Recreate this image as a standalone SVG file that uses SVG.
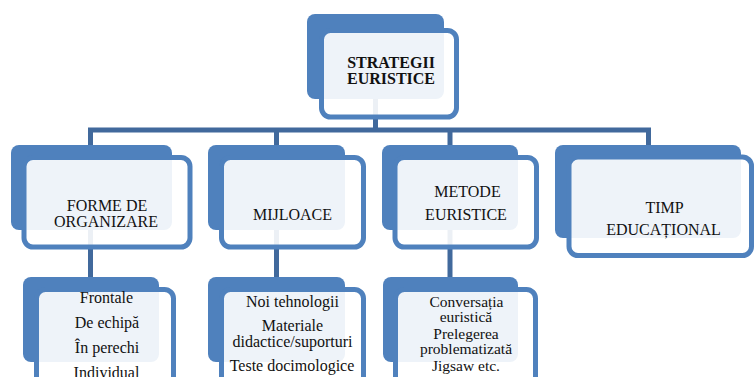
<svg xmlns="http://www.w3.org/2000/svg" width="754" height="377" viewBox="0 0 754 377">
<style>
.back{fill:#4F81BD}
.front{fill:#FFFFFF;fill-opacity:0.9;stroke:#4F81BD;stroke-width:5}
.conn{fill:none;stroke:#41699C;stroke-width:5;stroke-linejoin:miter}
.t{font-family:'Liberation Serif','Times New Roman',Times,'DejaVu Serif',serif;font-size:16px;fill:#111;text-anchor:middle}
.b{font-weight:bold}
.s{font-size:15.5px}
</style>
<rect width="754" height="377" fill="#FFFFFF"/>
<g id="connectors">
<path class="conn" d="M375.5,99 V130"/>
<path class="conn" d="M90.5,145 V130 H648.5 V145"/>
<path class="conn" d="M276.5,130 V145"/>
<path class="conn" d="M450,130 V145"/>
<path class="conn" d="M90.5,230 V277"/>
<path class="conn" d="M276.5,230 V277"/>
<path class="conn" d="M450,230 V277"/>
</g>
<g id="strategii">
<rect class="back" x="307" y="14" width="137" height="85" rx="8"/>
<rect class="front" x="321.5" y="30.5" width="135" height="86.5" rx="9"/>
<text class="t b" x="391" y="68">STRATEGII</text>
<text class="t b" x="391" y="84">EURISTICE</text>
</g>
<g id="forme">
<rect class="back" x="11" y="145" width="161" height="85" rx="8"/>
<rect class="front" x="24" y="157.5" width="166" height="89.5" rx="9"/>
<text class="t" x="107" y="211">FORME DE</text>
<text class="t" x="106" y="227">ORGANIZARE</text>
</g>
<g id="mijloace">
<rect class="back" x="208" y="145" width="137" height="85" rx="8"/>
<rect class="front" x="221.5" y="157.5" width="142" height="89.5" rx="9"/>
<text class="t" x="292.5" y="220">MIJLOACE</text>
</g>
<g id="metode">
<rect class="back" x="382" y="145" width="136" height="85" rx="8"/>
<rect class="front" x="395" y="157.5" width="141.5" height="89.5" rx="9"/>
<text class="t" x="467.5" y="197">METODE</text>
<text class="t" x="466" y="220">EURISTICE</text>
</g>
<g id="timp">
<rect class="back" x="555" y="145" width="186" height="93" rx="8"/>
<rect class="front" x="569" y="157" width="182.5" height="98.5" rx="9"/>
<text class="t" x="664.5" y="213">TIMP</text>
<text class="t" x="663.5" y="235">EDUCAȚIONAL</text>
</g>
<g id="frontale">
<rect class="back" x="23" y="277" width="136" height="85" rx="8"/>
<rect class="front" x="36.5" y="289.5" width="137" height="100" rx="9"/>
<text class="t" x="106.5" y="303">Frontale</text>
<text class="t" x="107" y="328">De echipă</text>
<text class="t" x="107" y="353">În perechi</text>
<text class="t" x="106.5" y="378">Individual</text>
</g>
<g id="noi">
<rect class="back" x="208" y="277" width="137" height="85" rx="8"/>
<rect class="front" x="221.5" y="289.5" width="142" height="100" rx="9"/>
<text class="t" x="292.5" y="307">Noi tehnologii</text>
<text class="t" x="292.5" y="331">Materiale</text>
<text class="t" x="292.5" y="347">didactice/suporturi</text>
<text class="t" x="292" y="371">Teste docimologice</text>
</g>
<g id="conversatia">
<rect class="back" x="383" y="277" width="135" height="85" rx="8"/>
<rect class="front" x="395.5" y="289.5" width="140" height="100" rx="9"/>
<text class="t s" x="466.5" y="307">Conversația</text>
<text class="t s" x="466" y="322">euristică</text>
<text class="t s" x="466" y="339">Prelegerea</text>
<text class="t s" x="466" y="354">problematizată</text>
<text class="t s" x="466" y="371">Jigsaw etc.</text>
</g>
</svg>
